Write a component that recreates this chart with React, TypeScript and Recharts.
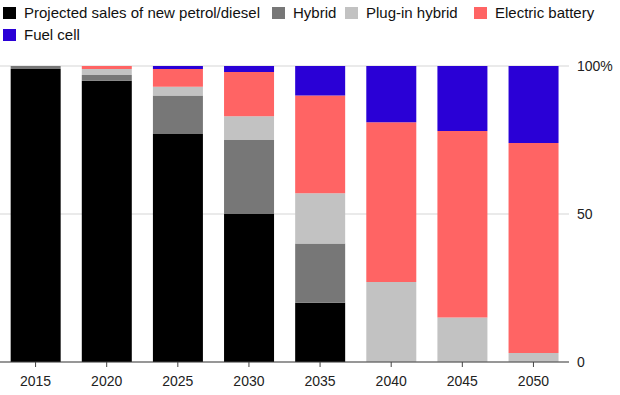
import React from "react";
import { BarChart, Bar, XAxis, YAxis, CartesianGrid } from "recharts";

const years = ["2015", "2020", "2025", "2030", "2035", "2040", "2045", "2050"];
const petrol = [99, 95, 77, 50, 20, 0, 0, 0];
const hybrid = [1, 2, 13, 25, 20, 0, 0, 0];
const plugIn = [0, 2, 3, 8, 17, 27, 15, 3];
const electric = [0, 1, 6, 15, 33, 54, 63, 71];
const fuelCell = [0, 0, 1, 2, 10, 19, 22, 26];
const yTicks = [0, 50, 100];

const series = [
  { key: "petrol", name: "Projected sales of new petrol/diesel", color: "#000000", values: petrol },
  { key: "hybrid", name: "Hybrid", color: "#777777", values: hybrid },
  { key: "plugIn", name: "Plug-in hybrid", color: "#c2c2c2", values: plugIn },
  { key: "electric", name: "Electric battery", color: "#ff6464", values: electric },
  { key: "fuelCell", name: "Fuel cell", color: "#2a00d6", values: fuelCell },
];

const legendPos = [
  { left: 3, top: 2 },
  { left: 272, top: 2 },
  { left: 345, top: 2 },
  { left: 474, top: 2 },
  { left: 3, top: 24 },
];

const data = years.map((y, i) => {
  const row: Record<string, string | number> = { year: y };
  series.forEach((s) => {
    row[s.key] = s.values[i];
  });
  return row;
});

const FONT = "'Liberation Sans', Arial, sans-serif";

function LegendBox() {
  return (
    <div style={{ position: "absolute", left: 0, top: 0, fontFamily: FONT, fontSize: 15, color: "#111", lineHeight: "22px" }}>
      {series.map((s, i) => (
        <div
          key={s.key}
          style={{
            position: "absolute",
            left: legendPos[i].left,
            top: legendPos[i].top,
            display: "flex",
            alignItems: "center",
            whiteSpace: "nowrap",
          }}
        >
          <span style={{ width: 13, height: 12, background: s.color, display: "inline-block", marginRight: 8 }} />
          <span>{s.name}</span>
        </div>
      ))}
    </div>
  );
}

export default function App() {
  return (
    <div style={{ position: "absolute", left: 0, top: 0, width: 620, height: 395, background: "#fff" }}>
      <LegendBox />
      <div style={{ position: "absolute", left: 0, top: 0 }}>
        <BarChart
          width={620}
          height={395}
          data={data}
          margin={{ top: 66, right: 0, bottom: 0, left: 0 }}
          barCategoryGap="15%"
        >
          <CartesianGrid horizontal vertical={false} stroke="#e3e3e3" strokeWidth={1.5} />
          <XAxis
            dataKey="year"
            axisLine={{ stroke: "#444" }}
            tickLine={{ stroke: "#444" }}
            tickSize={5}
            tickMargin={9}
            height={33}
            tick={{ fill: "#222", fontSize: 14, fontFamily: FONT }}
          />
          <YAxis
            orientation="right"
            domain={[0, 100]}
            ticks={yTicks}
            width={51}
            axisLine={false}
            tickLine={false}
            tick={{ fill: "#222", fontSize: 14, fontFamily: FONT }}
            tickFormatter={(v: number) => (v === 100 ? "100%" : String(v))}
            interval={0}
          />
          {series.map((s) => (
            <Bar key={s.key} dataKey={s.key} name={s.name} stackId="a" fill={s.color} isAnimationActive={false} />
          ))}
        </BarChart>
      </div>
    </div>
  );
}
